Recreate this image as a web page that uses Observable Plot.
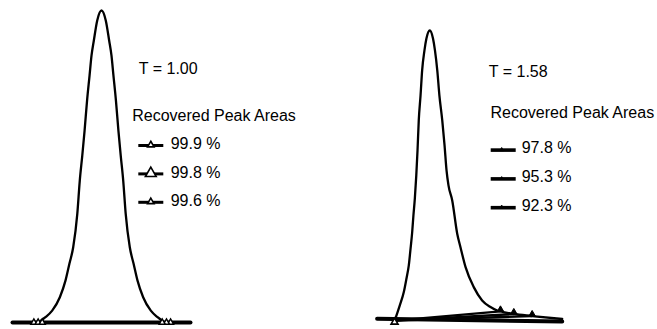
<!DOCTYPE html>
<html><head><meta charset="utf-8">
<script src="https://cdn.jsdelivr.net/npm/d3@7"></script>
<script src="https://cdn.jsdelivr.net/npm/@observablehq/plot@0.6"></script>
<style>
html,body{margin:0;padding:0;background:#fff;}
#wrap{position:relative;width:657px;height:329px;overflow:hidden;background:#fff;}
#wrap svg{position:absolute;top:0;}
</style></head><body><div id="wrap"></div>
<script>
// ---- Left peak: tailing factor 1.00 (time in min, signal in % of apex) ----
const leftTailing = 1.00;
const leftTime   = [1.57,1.85,2.23,2.66,2.98,3.20,3.41,3.64,3.78,3.92,4.05,4.19,4.33,4.44,4.57,4.76,5.00,5.24,5.43,5.56,5.67,5.81,5.95,6.08,6.22,6.36,6.59,6.80,7.02,7.34,7.77,8.15,8.43];
const leftSignal = [0.5,1.7,3.8,8.1,13.5,18.9,24.1,34.8,45.5,53.5,61.5,71.2,79.2,85.6,90.4,96.8,100,96.8,90.4,85.6,79.2,71.2,61.5,53.5,45.5,34.8,24.1,18.9,13.5,8.1,3.8,1.7,0.5];
const leftBaseTime   = [0, 10];
const leftBaseSignal = [0, 0];
const leftRecovered  = [99.9, 99.8, 99.6];
const leftStartTime  = [1.20, 1.44, 1.67];
const leftEndTime    = [8.88, 8.65, 8.41];

// ---- Right peak: tailing factor 1.58 ----
const rightTailing = 1.58;
const rightTime   = [3.07,3.31,3.54,3.69,3.82,3.92,4.01,4.08,4.16,4.24,4.31,4.38,4.48,4.57,4.70,4.81,5.00,5.18,5.29,5.42,5.54,5.70,5.83,5.94,6.05,6.26,6.54,6.72,7.01,7.47,7.94,8.41,8.79,8.97,9.72,10.75,12.44];
const rightSignal = [0.35,4.8,9.5,14.2,18.7,24.6,30.2,36.0,41.9,49.8,58.5,68.9,77.5,86.2,93.1,97.2,100,97.2,93.1,86.2,77.5,68.9,60.2,51.6,46.4,41.2,29.7,25.1,18.1,11.2,6.6,4.3,3.1,2.8,1.9,1.2,0.17];
const rightBaseTime   = [2.04, 12.44];
const rightBaseSignal = [0.24, -0.69];
const rightRecovered  = [97.8, 95.3, 92.3];
const rightStartTime   = [3.02, 3.02, 3.02];
const rightStartSignal = [-0.4, -0.4, -0.4];
const rightEndTime     = [10.75, 9.72, 8.97];
const rightEndSignal   = [1.2, 1.9, 2.8];

const FONT = "'Liberation Sans', Arial, Helvetica, sans-serif";
const zip = (xs, ys) => xs.map((x, i) => ({t: x, s: ys[i]}));

function legendMark(values, o) {
  return () => {
    const g = d3.create("svg:g").attr("font-family", FONT).attr("font-size", 16).attr("text-anchor", "start");
    values.forEach((v, i) => {
      const yb = o.y0 + i * o.step;
      const yl = yb - o.lineOff;
      g.append("line").attr("x1", o.x1).attr("x2", o.x2).attr("y1", yl).attr("y2", yl)
        .attr("stroke", "black").attr("stroke-width", o.lw);
      const r = o.r[i];
      g.append("path").attr("d", d3.symbol(d3.symbolTriangle, Math.PI * r * r)())
        .attr("transform", `translate(${o.cx},${yl - o.triUp})`)
        .attr("fill", o.fill).attr("stroke", "black").attr("stroke-width", o.tsw);
      g.append("text").attr("x", o.tx).attr("y", yb).attr("fill", "black").attr("text-anchor", "start").text(`${v} %`);
    });
    return g.node();
  };
}

const titleText = (txt, dx, dy) => Plot.text([txt], {frameAnchor: "top-left", dx, dy, textAnchor: "start", lineAnchor: "bottom", fontSize: 16, fill: "black"});

const left = Plot.plot({
  width: 328, height: 329, margin: 0,
  style: {fontFamily: FONT, background: "transparent", overflow: "visible"},
  x: {domain: [0, 10], range: [12, 190], axis: null},
  y: {domain: [0, 100], range: [322, 10], axis: null},
  marks: [
    Plot.line(zip(leftBaseTime, leftBaseSignal), {x: "t", y: "s", stroke: "black", strokeWidth: 4}),
    Plot.line(zip(leftTime, leftSignal), {x: "t", y: "s", stroke: "black", strokeWidth: 2.3, curve: "monotone-x"}),
    Plot.dot(leftStartTime.concat(leftEndTime).map(t => ({t, s: 0})), {x: "t", y: "s", symbol: "triangle", r: 2.3, fill: "white", stroke: "black", strokeWidth: 1.4}),
    titleText(`T = ${leftTailing.toFixed(2)}`, 138.3, 73.5),
    titleText("Recovered Peak Areas", 131.7, 120.7),
    legendMark(leftRecovered, {y0: 149.3, step: 28.4, lineOff: 3.8, x1: 138.3, x2: 163.3, cx: 150.8, tx: 170.7, lw: 3, r: [2.4, 4.0, 2.4], triUp: 0.5, fill: "white", tsw: 1.6})
  ]
});

const right = Plot.plot({
  width: 329, height: 329, margin: 0,
  style: {fontFamily: FONT, background: "transparent", overflow: "visible"},
  x: {domain: [5, 10], range: [101.3, 190.3], axis: null},
  y: {domain: [0, 100], range: [319, 30], axis: null},
  marks: [
    Plot.line(zip(rightBaseTime, rightBaseSignal), {x: "t", y: "s", stroke: "black", strokeWidth: 4}),
    Plot.link(rightStartTime.map((t, i) => ({x1: t, y1: rightStartSignal[i], x2: rightEndTime[i], y2: rightEndSignal[i]})), {x1: "x1", y1: "y1", x2: "x2", y2: "y2", stroke: "black", strokeWidth: 2.4}),
    Plot.line(zip(rightTime, rightSignal), {x: "t", y: "s", stroke: "black", strokeWidth: 2.3, curve: "monotone-x"}),
    Plot.dot(zip(rightStartTime.slice(0, 1), [-0.9]), {x: "t", y: "s", symbol: "triangle", r: 2.6, fill: "white", stroke: "black", strokeWidth: 1.6}),
    Plot.dot(zip(rightEndTime, rightEndSignal), {x: "t", y: "s", dy: -2, symbol: "triangle", r: 2.3, fill: "black", stroke: "black", strokeWidth: 1}),
    titleText(`T = ${rightTailing.toFixed(2)}`, 160.3, 76),
    titleText("Recovered Peak Areas", 162, 117.5),
    legendMark(rightRecovered, {y0: 153.3, step: 28.8, lineOff: 3.2, x1: 162.7, x2: 187.7, cx: 173.7, tx: 193.7, lw: 3.6, r: [1.4, 1.2, 1.4], triUp: 0.5, fill: "black", tsw: 0.8})
  ]
});
right.style.left = "328px";
left.style.left = "0px";
document.getElementById("wrap").append(left, right);
</script></body></html>
